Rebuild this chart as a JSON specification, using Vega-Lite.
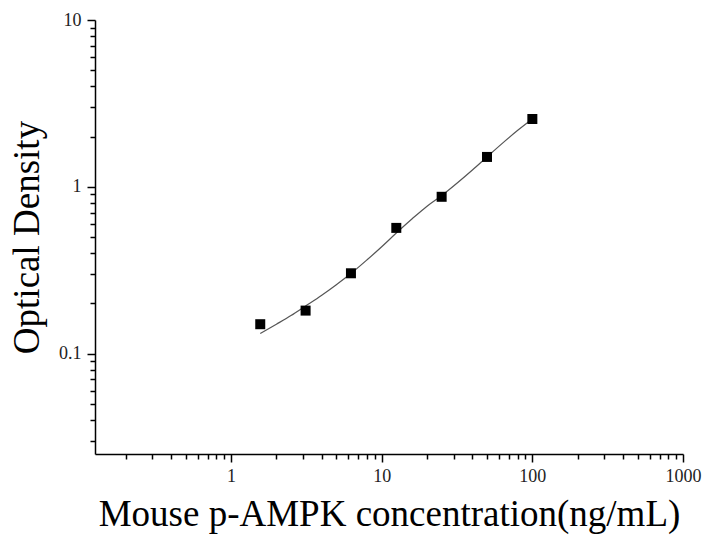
{
  "$schema": "https://vega.github.io/schema/vega-lite/v6.json",
  "width": 588,
  "height": 434,
  "autosize": {"type": "none"},
  "padding": {"left": 95, "top": 20, "right": 25, "bottom": 82},
  "background": "white",
  "config": {
    "view": {"stroke": null},
    "font": "Liberation Serif",
    "axis": {
      "grid": false,
      "domainColor": "black",
      "domainWidth": 1.5,
      "tickColor": "black",
      "tickWidth": 1.5,
      "labelFont": "Liberation Serif",
      "labelColor": "#222",
      "titleFont": "Liberation Serif",
      "titleFontSize": 37,
      "titleFontWeight": "normal",
      "titleColor": "black"
    }
  },
  "datasets": {
    "points": [
      {"conc": 1.5625, "od": 0.150},
      {"conc": 3.125, "od": 0.181},
      {"conc": 6.25, "od": 0.303},
      {"conc": 12.5, "od": 0.567},
      {"conc": 25, "od": 0.871},
      {"conc": 50, "od": 1.51},
      {"conc": 100, "od": 2.55}
    ],
    "curve": [
      {"conc": 1.5625, "od": 0.132},
      {"conc": 2, "od": 0.150},
      {"conc": 2.5, "od": 0.169},
      {"conc": 3.125, "od": 0.193},
      {"conc": 4, "od": 0.224},
      {"conc": 5, "od": 0.259},
      {"conc": 6.25, "od": 0.302},
      {"conc": 8, "od": 0.365},
      {"conc": 10, "od": 0.437},
      {"conc": 12.5, "od": 0.528},
      {"conc": 16, "od": 0.645},
      {"conc": 20, "od": 0.765},
      {"conc": 25, "od": 0.885},
      {"conc": 32, "od": 1.06},
      {"conc": 40, "od": 1.26},
      {"conc": 50, "od": 1.51},
      {"conc": 64, "od": 1.84},
      {"conc": 80, "od": 2.18},
      {"conc": 100, "od": 2.55}
    ]
  },
  "encoding": {
    "x": {
      "field": "conc",
      "type": "quantitative",
      "scale": {"type": "log", "domain": [0.125, 1000], "nice": false},
      "axis": {
        "title": "Mouse p-AMPK concentration(ng/mL)",
        "titleY": 71,
        "titleBaseline": "alphabetic",
        "values": [0.2, 0.3, 0.4, 0.5, 0.6, 0.7, 0.8, 0.9, 1, 2, 3, 4, 5, 6, 7, 8, 9, 10, 20, 30, 40, 50, 60, 70, 80, 90, 100, 200, 300, 400, 500, 600, 700, 800, 900, 1000],
        "labelExpr": "abs(log(datum.value)/LN10 - round(log(datum.value)/LN10)) < 0.001 ? format(datum.value, 'd') : ''",
        "labelFontSize": 18,
        "tickSize": {"condition": {"test": "abs(log(datum.value)/LN10 - round(log(datum.value)/LN10)) < 0.001", "value": 8}, "value": 5},
        "labelPadding": 5,
        "labelFlush": false,
        "labelOverlap": false
      }
    },
    "y": {
      "field": "od",
      "type": "quantitative",
      "scale": {"type": "log", "domain": [0.025, 10], "nice": false},
      "axis": {
        "title": "Optical Density",
        "titleX": -57,
        "titleBaseline": "alphabetic",
        "values": [0.03, 0.04, 0.05, 0.06, 0.07, 0.08, 0.09, 0.1, 0.2, 0.3, 0.4, 0.5, 0.6, 0.7, 0.8, 0.9, 1, 2, 3, 4, 5, 6, 7, 8, 9, 10],
        "labelExpr": "abs(log(datum.value)/LN10 - round(log(datum.value)/LN10)) < 0.001 ? (datum.value < 1 ? '0.1' : format(datum.value, 'd')) : ''",
        "labelFontSize": 18,
        "tickSize": {"condition": {"test": "abs(log(datum.value)/LN10 - round(log(datum.value)/LN10)) < 0.001", "value": 8}, "value": 5},
        "labelPadding": 6,
        "labelFlush": false,
        "labelOverlap": false
      }
    }
  },
  "layer": [
    {
      "data": {"name": "curve"},
      "mark": {"type": "line", "color": "#555", "strokeWidth": 1.2, "interpolate": "monotone"}
    },
    {
      "data": {"name": "points"},
      "mark": {"type": "point", "shape": "square", "filled": true, "color": "black", "size": 100, "opacity": 1}
    }
  ]
}
